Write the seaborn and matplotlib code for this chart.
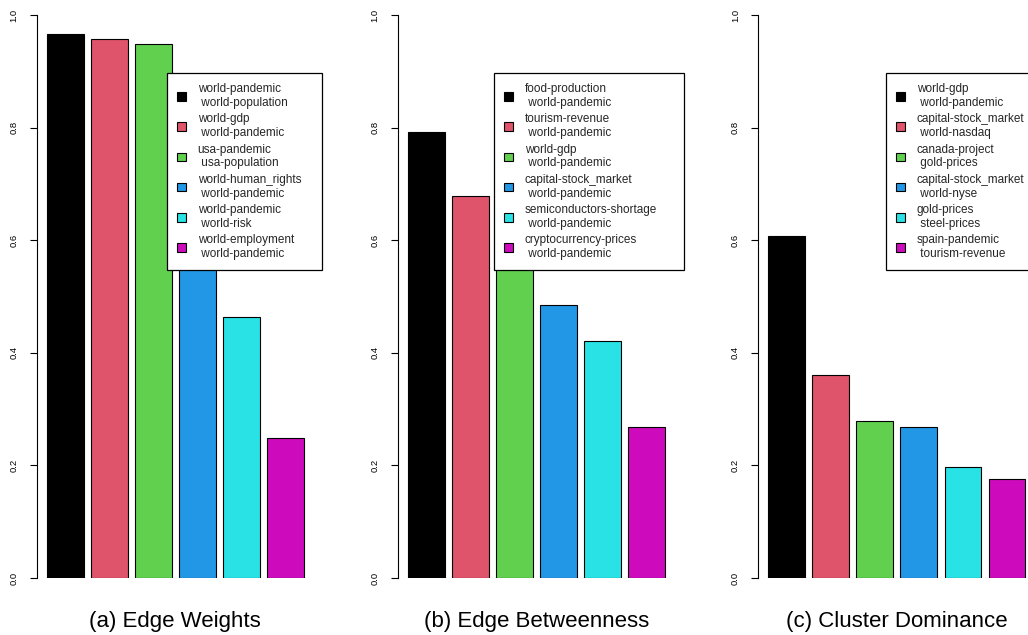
import matplotlib
matplotlib.use("Agg")
import matplotlib.pyplot as plt
import seaborn as sns
import pandas as pd

# ---------------- data ----------------
colors = ["#000000", "#DF536B", "#61D04F", "#2297E6", "#28E2E5", "#CD0BBC"]

cats_a = ["world-pandemic\n world-population", "world-gdp\n world-pandemic",
          "usa-pandemic\n usa-population", "world-human_rights\n world-pandemic",
          "world-pandemic\n world-risk", "world-employment\n world-pandemic"]
vals_a = [0.966, 0.957, 0.948, 0.62, 0.464, 0.249]

cats_b = ["food-production\n world-pandemic", "tourism-revenue\n world-pandemic",
          "world-gdp\n world-pandemic", "capital-stock_market\n world-pandemic",
          "semiconductors-shortage\n world-pandemic", "cryptocurrency-prices\n world-pandemic"]
vals_b = [0.793, 0.679, 0.60, 0.485, 0.421, 0.268]

cats_c = ["world-gdp\n world-pandemic", "capital-stock_market\n world-nasdaq",
          "canada-project\n gold-prices", "capital-stock_market\n world-nyse",
          "gold-prices\n steel-prices", "spain-pandemic\n tourism-revenue"]
vals_c = [0.607, 0.361, 0.279, 0.268, 0.197, 0.176]

titles = ["(a) Edge Weights", "(b) Edge Betweenness", "(c) Cluster Dominance"]
yticks = [0.0, 0.2, 0.4, 0.6, 0.8, 1.0]
ytick_labels = ["0.0", "0.2", "0.4", "0.6", "0.8", "1.0"]

# ---------------- style ----------------
sns.set_theme(style="white")
plt.rcParams["font.family"] = ["Liberation Sans", "DejaVu Sans"]

W, H = 1028, 635
fig = plt.figure(figsize=(W / 100, H / 100), dpi=100)
fig.patch.set_facecolor("white")

panel_left_px = [36.5, 397.5, 758.0]
legend_left_px = [167, 494, 886]
legend_width_px = [155, 190, 152]
ax_w_px = 277.6
y_top_px, y_bot_px = 15, 578

panels = [(cats_a, vals_a), (cats_b, vals_b), (cats_c, vals_c)]

for i, (cats, vals) in enumerate(panels):
    ax = fig.add_axes([panel_left_px[i] / W, 1 - y_bot_px / H,
                       ax_w_px / W, (y_bot_px - y_top_px) / H])
    df = pd.DataFrame({"pair": cats, "value": vals})
    sns.barplot(data=df, x="pair", y="value", hue="pair", order=cats,
                hue_order=cats, palette=colors, saturation=1, dodge=False,
                width=1 / 1.2, edgecolor="black", linewidth=0.8, legend=True,
                ax=ax)
    ax.set_xlim(-0.65, 5.65)
    ax.set_ylim(0, 1)
    ax.set_facecolor("white")
    ax.set_xlabel("")
    ax.set_ylabel("")
    ax.set_xticks([])
    ax.set_yticks(yticks)
    ax.set_yticklabels(ytick_labels, rotation=90, va="center", fontsize=6.8)
    ax.tick_params(axis="y", length=5, width=0.8, pad=8, color="black",
                   labelcolor="black", left=True)
    for s in ["top", "right", "bottom"]:
        ax.spines[s].set_visible(False)
    ax.spines["left"].set_bounds(0, 1)
    ax.spines["left"].set_color("black")
    ax.spines["left"].set_linewidth(0.8)

    handles, labels = ax.get_legend_handles_labels()
    top = 1 - 73 / H
    leg = ax.legend(handles, labels, loc="upper left",
                    bbox_to_anchor=(legend_left_px[i] / W, 0.0,
                                    legend_width_px[i] / W, top),
                    bbox_transform=fig.transFigure, borderaxespad=0,
                    mode="expand",
                    fontsize=8.5, frameon=True, fancybox=False, framealpha=1,
                    edgecolor="black", handlelength=0.75, handleheight=0.75,
                    handletextpad=1.0, labelspacing=0.38, borderpad=0.85)
    leg.get_frame().set_linewidth(0.9)
    for h in leg.legend_handles:
        h.set_edgecolor("black")
        h.set_linewidth(0.8)

    ax.text(0.5, -0.078, titles[i], transform=ax.transAxes, ha="center",
            va="center", fontsize=16, color="black")

fig.savefig("out.png", dpi=100, facecolor="white")
